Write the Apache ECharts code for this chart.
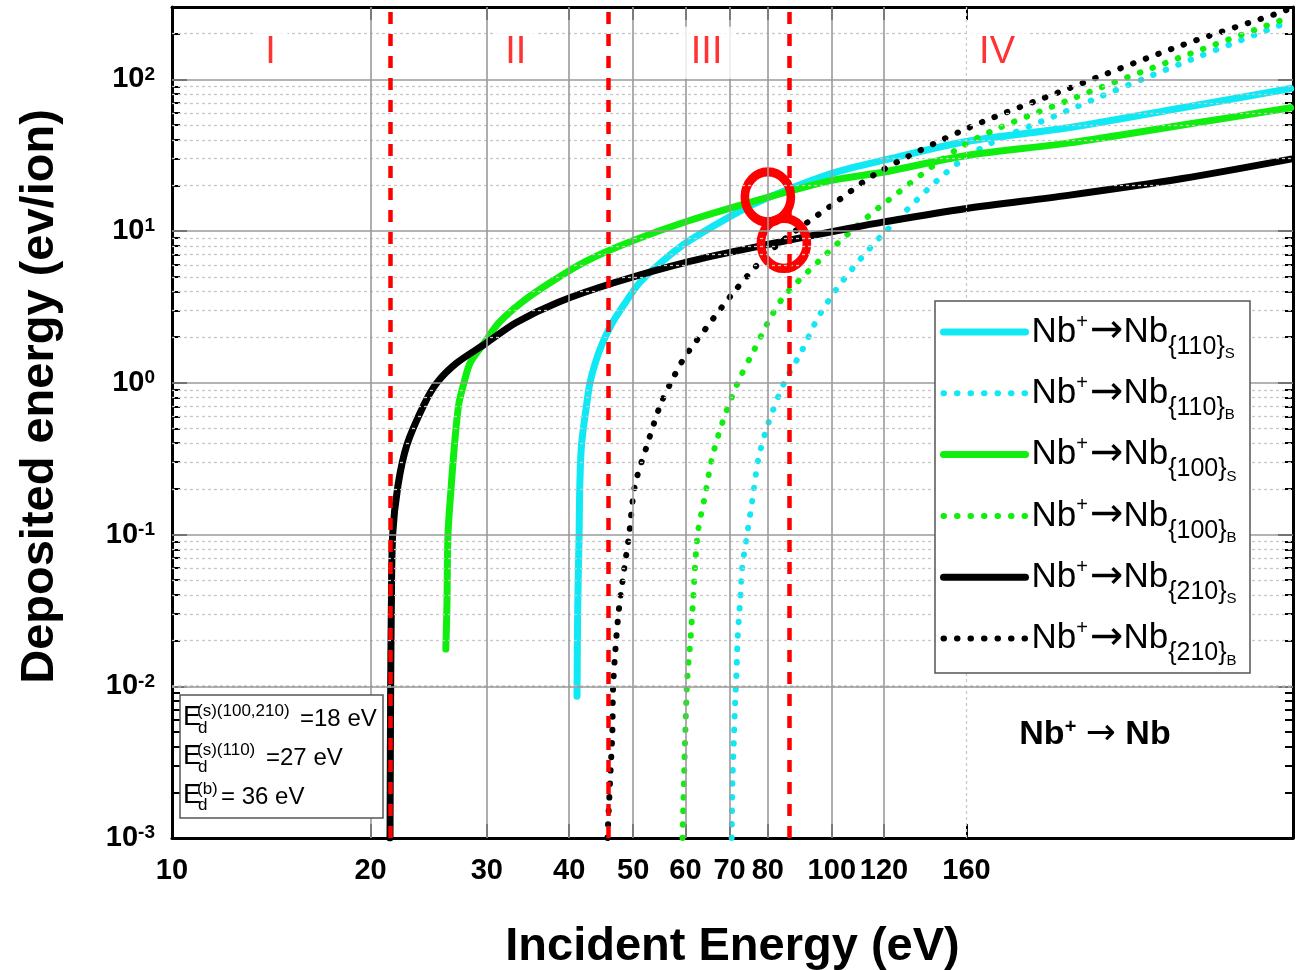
<!DOCTYPE html>
<html>
<head>
<meta charset="utf-8">
<title>Deposited energy vs incident energy</title>
<script src="https://cdn.jsdelivr.net/npm/echarts@6/dist/echarts.min.js"></script>
<style>
  html, body { margin: 0; padding: 0; background: #fff; }
  #chart { width: 1303px; height: 970px; }
</style>
</head>
<body>
<div id="chart"></div>
<script>
  // axis ticks
  const xTicks = [10, 20, 30, 40, 50, 60, 70, 80, 100, 120, 160]
  const xGridSolid = [20, 30, 40, 50, 60, 70, 80, 100, 120]
  const xGridDotted = [160]
  const yDecades = [0.001, 0.01, 0.1, 1, 10, 100]
  const yMinorSteps = [2, 3, 4, 5, 6, 7, 8, 9]

  // regions
  const regionBounds = [21.4, 45.9, 86.3]
  const regionNames = ['I', 'II', 'III', 'IV']
  const regionCenters = [14.1, 33.2, 64.6, 178]

  // highlighted crossings
  const circleX = [80.0, 84.6]
  const circleY = [16.8, 8.3]

  // Nb+ -> Nb{110} surface
  const x110S = [41.1, 41.2, 41.4, 41.5, 41.75, 42.5, 43.0, 43.8, 44.9, 46.5, 48.7, 51.2, 55.3, 60.7, 72.2, 79.2, 100, 121.8, 160, 228, 340, 496]
  const y110S = [0.0086, 0.033, 0.1, 0.21, 0.39, 0.72, 1.0, 1.35, 1.82, 2.49, 3.4, 4.6, 6.3, 8.6, 13.4, 16.3, 24, 29.8, 39, 48, 65, 87]
  // Nb+ -> Nb{110} bulk
  const x110B = [70.5, 70.7, 71.0, 71.3, 71.7, 72.0, 72.6, 73.2, 74.4, 76.0, 77.4, 80.1, 84.7, 89.9, 95.6, 104, 120, 160, 228, 338, 496]
  const y110B = [0.001, 0.0024, 0.0041, 0.0071, 0.0123, 0.021, 0.036, 0.062, 0.1, 0.184, 0.316, 0.54, 1.0, 1.6, 2.76, 4.74, 9.7, 30.8, 62.4, 126.9, 242]
  // Nb+ -> Nb{100} surface
  const x100S = [26.0, 26.1, 26.2, 26.5, 26.8, 27.2, 27.7, 28.3, 29.7, 31.3, 33.9, 37.5, 42.3, 49.8, 60.7, 79.2, 100, 120, 160, 228, 340, 496]
  const y100S = [0.0176, 0.033, 0.1, 0.21, 0.39, 0.72, 1.0, 1.35, 1.82, 2.49, 3.4, 4.6, 6.3, 8.6, 11.7, 16.5, 21.6, 24.5, 31.5, 38, 50, 65]
  // Nb+ -> Nb{100} bulk
  const x100B = [59.4, 60.3, 61.1, 61.6, 62.6, 64.3, 65.8, 68.2, 72.0, 76.0, 81.0, 85.0, 96.5, 107, 120, 160, 228, 338, 487, 496]
  const y100B = [0.001, 0.01, 0.021, 0.036, 0.1, 0.184, 0.316, 0.54, 1.0, 1.6, 2.76, 3.8, 6.6, 10, 15.2, 37.7, 72.7, 140, 251, 257]
  // Nb+ -> Nb{210} surface
  const x210S = [21.4, 21.45, 21.5, 21.6, 22.0, 22.7, 24.1, 25.2, 27.0, 29.9, 33.2, 38.5, 47.0, 60.7, 79.2, 106, 120, 160, 228, 340, 496]
  const y210S = [0.001, 0.01, 0.033, 0.1, 0.21, 0.39, 0.72, 1.0, 1.35, 1.82, 2.49, 3.4, 4.6, 6.3, 8.1, 10.4, 11.5, 14.1, 17.2, 22.2, 29.8]
  // Nb+ -> Nb{210} bulk
  const x210B = [45.7, 46.2, 46.5, 46.6, 47.0, 47.6, 48.5, 49.3, 50.3, 52.5, 55.0, 57.0, 59.8, 64.9, 70.3, 76.9, 83.5, 101, 117.6, 160, 228, 338, 479, 496]
  const y210B = [0.001, 0.00275, 0.0051, 0.0095, 0.0176, 0.033, 0.061, 0.1, 0.21, 0.39, 0.72, 1.0, 1.47, 2.38, 3.75, 5.92, 8.4, 15.3, 24.4, 47.3, 86.8, 167, 277, 295]

  const FONT = '"Liberation Sans", Arial, Helvetica, sans-serif'
  const ARROW_FONT = '"DejaVu Sans", sans-serif'
  const CYAN = '#10e8f4'
  const GREEN = '#10ee10'
  const BLACK = '#000000'
  const RED = '#ff0000'

  const REGION_LABEL_Y = 150

  const pairs = (xs, ys) => xs.map((x, i) => [x, ys[i]])
  const yMinor = yDecades.flatMap(d => yMinorSteps.map(m => +(m * d).toPrecision(3))).filter(v => v < 300)

  const logX = { type: 'log', logBase: 10, min: 10, max: 500 }
  const logY = { type: 'log', logBase: 10, min: 0.001, max: 300 }
  const frameLine = { show: true, lineStyle: { color: '#000', width: 3 } }
  const tickLine = { color: '#000', width: 2 }
  const noSplit = { show: false }

  const solidGrid = { color: '#9a9a9a', width: 1.6, type: 'solid' }
  const dottedGrid = { color: '#c8c8c8', width: 1.3, type: [3, 3] }

  const curve = (name, xs, ys, color, dotted) => ({
    name,
    type: 'line',
    data: pairs(xs, ys),
    symbol: 'none',
    smooth: 0.3,
    z: 3,
    itemStyle: { color },
    lineStyle: dotted
      ? { color, width: 6, type: [0.5, 13], cap: 'round', join: 'round' }
      : { color, width: 7, cap: 'round', join: 'round' },
    emphasis: { disabled: true },
    animation: false
  })

  const legendText = {
    '110S': ['110', 'S'],
    '110B': ['110', 'B'],
    '100S': ['100', 'S'],
    '100B': ['100', 'B'],
    '210S': ['210', 'S'],
    '210B': ['210', 'B']
  }

  const chart = echarts.init(document.getElementById('chart'))

  chart.setOption({
    backgroundColor: '#fff',
    animation: false,
    grid: { left: 172, right: 10, top: 7, bottom: 132, outerBoundsMode: 'none' },

    xAxis: [
      {
        ...logX,
        position: 'bottom',
        name: 'Incident Energy (eV)',
        nameLocation: 'middle',
        nameGap: 86,
        nameTextStyle: { fontFamily: FONT, fontWeight: 'bold', fontSize: 47, color: '#000' },
        axisLine: frameLine,
        axisTick: { show: true, inside: true, length: 14, customValues: xTicks, lineStyle: tickLine },
        axisLabel: { show: true, customValues: xTicks, fontFamily: FONT, fontWeight: 'bold', fontSize: 29, color: '#000', margin: 18 },
        splitLine: noSplit,
        minorTick: { show: false }
      },
      {
        ...logX,
        position: 'top',
        axisLine: frameLine,
        axisTick: { show: true, inside: true, length: 13, customValues: xTicks, lineStyle: tickLine },
        axisLabel: { show: false },
        splitLine: noSplit
      }
    ],

    yAxis: [
      {
        ...logY,
        position: 'left',
        name: 'Deposited energy (ev/ion)',
        nameLocation: 'middle',
        nameGap: 108,
        nameTextStyle: { fontFamily: FONT, fontWeight: 'bold', fontSize: 47, color: '#000', padding: [0, 0, 0, 52] },
        axisLine: frameLine,
        axisTick: { show: true, inside: true, length: 15, customValues: yDecades, lineStyle: tickLine },
        axisLabel: {
          show: true,
          customValues: yDecades,
          margin: 17,
          fontFamily: FONT,
          fontWeight: 'bold',
          fontSize: 29,
          lineHeight: 29,
          color: '#000',
          formatter: v => '10{sup|' + Math.round(Math.log10(v)) + '}',
          rich: {
            sup: { fontFamily: FONT, fontWeight: 'bold', fontSize: 19, lineHeight: 14, verticalAlign: 'top', color: '#000' }
          }
        },
        splitLine: noSplit
      },
      {
        ...logY,
        position: 'right',
        axisLine: frameLine,
        axisTick: { show: true, inside: true, length: 15, customValues: yDecades, lineStyle: tickLine },
        axisLabel: { show: false },
        splitLine: noSplit
      },
      {
        ...logY,
        position: 'left',
        axisLine: { show: false },
        axisTick: { show: true, inside: true, length: 8, customValues: yMinor, lineStyle: tickLine },
        axisLabel: { show: false },
        splitLine: noSplit
      },
      {
        ...logY,
        position: 'right',
        axisLine: { show: false },
        axisTick: { show: true, inside: true, length: 8, customValues: yMinor, lineStyle: tickLine },
        axisLabel: { show: false },
        splitLine: noSplit
      }
    ],

    legend: {
      orient: 'vertical',
      left: 940,
      top: 302,
      padding: 0,
      itemGap: -18.7,
      itemWidth: 82,
      itemHeight: 1,
      z: 20,
      selectedMode: false,
      itemStyle: { opacity: 0 },
      lineStyle: { width: 7, cap: 'round' },
      data: [
        { name: '110S' },
        { name: '110B', lineStyle: { width: 6 } },
        { name: '100S' },
        { name: '100B', lineStyle: { width: 6 } },
        { name: '210S' },
        { name: '210B', lineStyle: { width: 6 } }
      ],
      formatter: name => {
        const [plane, kind] = legendText[name]
        return '{nb|Nb}{sup|+}{arr|\u2192}{nb|Nb}{sub|{' + plane + '}' + '}' + '{ss|' + kind + '}'
      },
      textStyle: {
        fontFamily: FONT,
        fontSize: 25,
        lineHeight: 25,
        color: '#000',
        padding: [30, 0, 0, 1],
        rich: {
          nb: { fontFamily: FONT, fontSize: 35, lineHeight: 30, padding: [0, 0, 30, 0], color: '#000' },
          arr: { fontFamily: ARROW_FONT, fontSize: 40, lineHeight: 30, padding: [0, 0, 30, 0], color: '#000' },
          sup: { fontFamily: FONT, fontSize: 20, lineHeight: 10, padding: [0, 2, 50, 0], color: '#000' },
          sub: { fontFamily: FONT, fontSize: 25, lineHeight: 25, color: '#000' },
          ss: { fontFamily: FONT, fontSize: 15, lineHeight: 15, padding: [14, 0, 0, 0], color: '#000' }
        }
      }
    },

    graphic: {
      elements: [
        // legend frame
        { type: 'rect', z: 10, shape: { x: 935, y: 301, width: 315, height: 372 }, style: { fill: '#fff', stroke: '#555', lineWidth: 1.5 } },
        // threshold energies box
        { type: 'rect', z: 10, shape: { x: 180, y: 695, width: 203, height: 123 }, style: { fill: '#fff', stroke: '#555', lineWidth: 1.5 } },
        { type: 'text', z: 11, x: 183, y: 718, style: { text: 'E', fontFamily: FONT, fontSize: 27, fill: '#000', verticalAlign: 'middle' } },
        { type: 'text', z: 11, x: 197, y: 711, style: { text: '(s)(100,210)', fontFamily: FONT, fontSize: 17, fill: '#000', verticalAlign: 'middle' } },
        { type: 'text', z: 11, x: 198, y: 728, style: { text: 'd', fontFamily: FONT, fontSize: 17, fill: '#000', verticalAlign: 'middle' } },
        { type: 'text', z: 11, x: 300, y: 719, style: { text: '=18 eV', fontFamily: FONT, fontSize: 24, fill: '#000', verticalAlign: 'middle' } },
        { type: 'text', z: 11, x: 183, y: 757, style: { text: 'E', fontFamily: FONT, fontSize: 27, fill: '#000', verticalAlign: 'middle' } },
        { type: 'text', z: 11, x: 197, y: 750, style: { text: '(s)(110)', fontFamily: FONT, fontSize: 17, fill: '#000', verticalAlign: 'middle' } },
        { type: 'text', z: 11, x: 198, y: 767, style: { text: 'd', fontFamily: FONT, fontSize: 17, fill: '#000', verticalAlign: 'middle' } },
        { type: 'text', z: 11, x: 266, y: 758, style: { text: '=27 eV', fontFamily: FONT, fontSize: 24, fill: '#000', verticalAlign: 'middle' } },
        { type: 'text', z: 11, x: 183, y: 796, style: { text: 'E', fontFamily: FONT, fontSize: 27, fill: '#000', verticalAlign: 'middle' } },
        { type: 'text', z: 11, x: 197, y: 789, style: { text: '(b)', fontFamily: FONT, fontSize: 17, fill: '#000', verticalAlign: 'middle' } },
        { type: 'text', z: 11, x: 198, y: 805, style: { text: 'd', fontFamily: FONT, fontSize: 17, fill: '#000', verticalAlign: 'middle' } },
        { type: 'text', z: 11, x: 221, y: 797, style: { text: '= 36 eV', fontFamily: FONT, fontSize: 24, fill: '#000', verticalAlign: 'middle' } },
        // reaction label
        {
          type: 'text', z: 11, x: 1095, y: 735,
          style: {
            text: 'Nb{sup|+} {arr|\u2192} Nb',
            fontFamily: FONT, fontWeight: 'bold', fontSize: 34, fill: '#000',
            align: 'center', verticalAlign: 'middle',
            backgroundColor: '#fff', padding: [6, 16],
            rich: {
              sup: { fontFamily: FONT, fontWeight: 'bold', fontSize: 20, lineHeight: 14, verticalAlign: 'top', fill: '#000' },
              arr: { fontFamily: ARROW_FONT, fontWeight: 'normal', fontSize: 36, fill: '#000' }
            }
          }
        }
      ]
    },

    series: [
      {
        name: 'grid',
        type: 'line',
        data: [],
        z: 1,
        silent: true,
        markLine: {
          silent: true,
          animation: false,
          symbol: ['none', 'none'],
          label: { show: false },
          emphasis: { disabled: true },
          data: [
            ...yMinor.map(v => ({ yAxis: v, lineStyle: dottedGrid })),
            ...xGridDotted.map(v => ({ xAxis: v, lineStyle: dottedGrid })),
            ...yDecades.map(v => ({ yAxis: v, lineStyle: solidGrid })),
            ...xGridSolid.map(v => ({ xAxis: v, lineStyle: solidGrid }))
          ]
        }
      },
      {
        name: 'regions',
        type: 'line',
        data: [],
        z: 2,
        silent: true,
        markLine: {
          silent: true,
          animation: false,
          symbol: ['none', 'none'],
          label: { show: false },
          emphasis: { disabled: true },
          lineStyle: { color: RED, width: 4.5, type: [12, 10] },
          data: regionBounds.map(v => ({ xAxis: v }))
        }
      },
      curve('110S', x110S, y110S, CYAN, false),
      curve('110B', x110B, y110B, CYAN, true),
      curve('100S', x100S, y100S, GREEN, false),
      curve('100B', x100B, y100B, GREEN, true),
      curve('210S', x210S, y210S, BLACK, false),
      curve('210B', x210B, y210B, BLACK, true),
      {
        name: 'crossings',
        type: 'scatter',
        data: pairs(circleX, circleY),
        symbol: 'circle',
        symbolSize: [46, 50],
        z: 4,
        silent: true,
        itemStyle: { color: 'rgba(0,0,0,0)', borderColor: RED, borderWidth: 9, opacity: 1 }
      },
      {
        name: 'regionLabels',
        type: 'scatter',
        data: regionCenters.map((x, i) => ({ name: regionNames[i], value: [x, REGION_LABEL_Y] })),
        symbolSize: 1,
        z: 5,
        silent: true,
        itemStyle: { color: 'rgba(0,0,0,0)' },
        label: {
          show: true,
          position: 'inside',
          formatter: p => p.name,
          fontFamily: FONT,
          fontSize: 38,
          color: RED,
          backgroundColor: '#fff',
          padding: [6, 12, 8, 12]
        }
      }
    ]
  })

  window.addEventListener('resize', () => chart.resize())
</script>
</body>
</html>
